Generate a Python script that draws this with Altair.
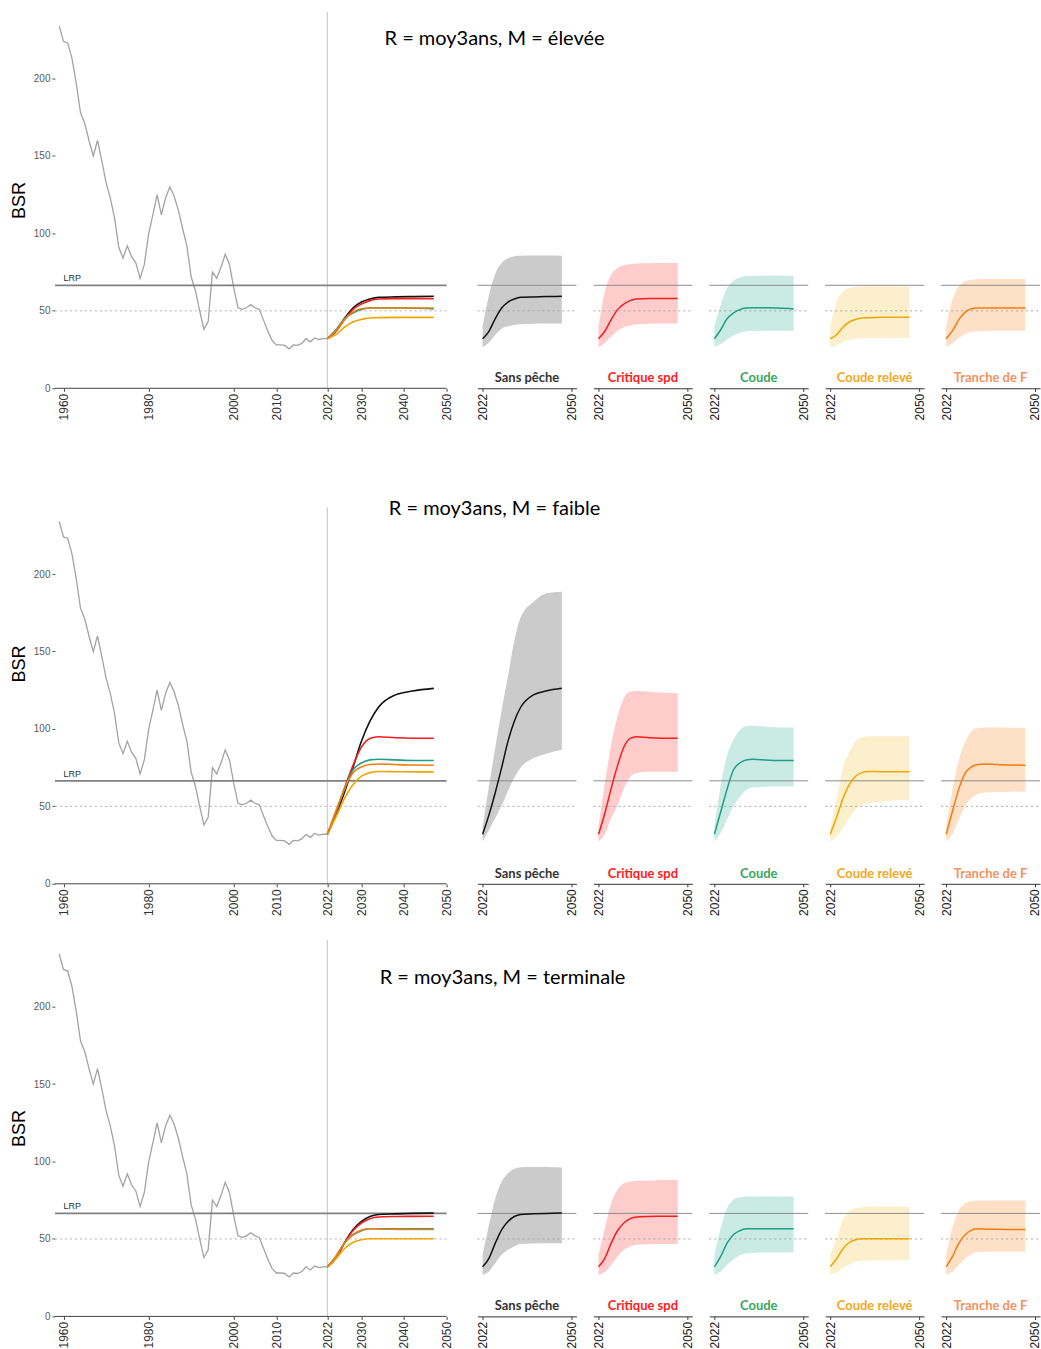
import altair as alt
import pandas as pd

# ---------------- data ----------------
HIST_YEARS = list(range(1959, 2023))
HIST_BSR = [234, 224, 223, 213, 197, 178, 171, 160, 150, 160,
            147, 133, 123, 110, 91, 84, 92, 85, 81, 71,
            80, 99.5, 112, 125, 112, 123, 130, 124, 115, 103,
            92, 72, 63, 50, 38, 43, 75, 71, 78, 86.5,
            80, 65, 52, 51, 52, 54, 52, 51, 44, 37,
            31, 28, 28, 27.7, 25.5, 28, 27.7, 29, 32, 30,
            32.5, 31.5, 32, 32]

PROJ_YEARS = [2022, 2024, 2026, 2028, 2030, 2032, 2034, 2038, 2042, 2047]
SCENARIOS = ["Sans pêche", "Critique spd", "Coude", "Coude relevé", "Tranche de F"]

LRP = 66.5
REF_50 = 50

# Row 1 : M = élevée
ELEVEE_MED = {
    "Sans pêche":   [32, 36.8, 45.0, 51.8, 55.7, 57.6, 58.7, 59.0, 59.2, 59.4],
    "Critique spd": [32, 36.8, 44.3, 50.8, 54.4, 56.6, 57.6, 57.9, 57.9, 57.9],
    "Coude":        [32, 37.8, 44.9, 48.6, 50.8, 51.8, 52.0, 52.0, 51.8, 51.2],
    "Coude relevé": [32, 34.6, 39.4, 42.8, 44.5, 45.4, 45.6, 45.8, 45.8, 45.8],
    "Tranche de F": [32, 37.2, 44.3, 49.2, 51.4, 51.8, 51.8, 51.8, 51.8, 51.8],
}
ELEVEE_LO = {
    "Sans pêche":   [26.5, 29.5, 34.6, 38.5, 40.0, 40.9, 41.3, 41.6, 41.8, 41.8],
    "Critique spd": [26.5, 29.3, 33.5, 37.2, 39.4, 40.6, 41.2, 41.6, 41.8, 41.8],
    "Coude":        [26.5, 28.6, 31.4, 34.0, 35.7, 36.8, 37.0, 37.2, 37.2, 37.2],
    "Coude relevé": [26.5, 27.8, 30.0, 31.4, 32.0, 32.3, 32.5, 32.5, 32.5, 32.5],
    "Tranche de F": [26.5, 29.3, 32.5, 35.1, 36.3, 36.8, 37.0, 37.2, 37.2, 37.2],
}
ELEVEE_HI = {
    "Sans pêche":   [40, 60.0, 74.0, 81.0, 84.0, 85.3, 85.5, 85.7, 85.7, 85.5],
    "Critique spd": [40, 62.4, 73.3, 77.6, 79.4, 80.2, 80.5, 80.7, 80.9, 80.9],
    "Coude":        [40, 54.0, 64.7, 69.4, 71.6, 72.3, 72.6, 72.9, 72.8, 72.3],
    "Coude relevé": [40, 56.1, 62.4, 64.7, 65.4, 65.6, 65.8, 65.8, 65.8, 65.8],
    "Tranche de F": [40, 57.2, 65.8, 69.0, 70.1, 70.4, 70.5, 70.5, 70.5, 70.5],
}

# Row 2 : M = faible
FAIBLE_MED = {
    "Sans pêche":   [32, 44.5, 59.0, 75.0, 92.0, 105.0, 114.0, 122.0, 124.5, 126.2],
    "Critique spd": [32, 45.6, 61.6, 76.3, 88.3, 93.9, 95.0, 94.3, 94.0, 94.0],
    "Coude":        [32, 46.5, 61.0, 73.5, 78.0, 80.0, 80.4, 80.0, 79.6, 79.6],
    "Coude relevé": [32, 43.0, 55.0, 64.0, 69.5, 71.8, 72.5, 72.4, 72.3, 72.3],
    "Tranche de F": [32, 47.0, 61.3, 71.5, 75.5, 77.0, 77.4, 77.0, 76.7, 76.6],
}
FAIBLE_LO = {
    "Sans pêche":   [27.3, 34.8, 42.5, 50.5, 60.0, 68.5, 75.0, 81.0, 84.0, 86.5],
    "Critique spd": [27.3, 32.0, 42.5, 50.5, 61.5, 69.0, 71.5, 72.4, 72.4, 72.4],
    "Coude":        [27.3, 32.9, 41.5, 49.9, 56.1, 60.4, 62.2, 62.6, 62.8, 62.8],
    "Coude relevé": [27.3, 30.5, 36.3, 42.7, 48.0, 50.8, 52.0, 53.0, 53.8, 54.2],
    "Tranche de F": [27.3, 32.5, 41.5, 50.0, 55.5, 58.0, 58.9, 59.2, 59.5, 59.6],
}
FAIBLE_HI = {
    "Sans pêche":   [37, 63.0, 88.0, 112.0, 134.0, 157.0, 172.0, 182.0, 187.5, 188.6],
    "Critique spd": [37, 65.0, 90.0, 108.0, 120.0, 124.0, 124.5, 124.0, 123.5, 123.0],
    "Coude":        [37, 63.5, 83.0, 92.9, 99.2, 101.8, 102.0, 101.5, 101.0, 100.9],
    "Coude relevé": [37, 55.0, 75.0, 85.0, 92.0, 94.5, 95.3, 95.3, 95.3, 95.3],
    "Tranche de F": [37, 61.0, 80.0, 91.5, 98.5, 100.6, 101.0, 101.0, 100.8, 100.6],
}

# Row 3 : M = terminale
TERMINALE_MED = {
    "Sans pêche":   [32, 37.5, 47.3, 55.9, 61.3, 64.5, 65.8, 66.2, 66.5, 66.7],
    "Critique spd": [32, 37.5, 47.3, 55.3, 60.3, 63.1, 64.2, 64.5, 64.6, 64.7],
    "Coude":        [32, 38.7, 47.3, 52.7, 55.3, 56.6, 56.6, 56.6, 56.6, 56.6],
    "Coude relevé": [32, 37.2, 43.7, 47.7, 49.5, 50.1, 50.1, 50.1, 50.1, 50.1],
    "Tranche de F": [32, 38.7, 47.3, 52.7, 55.7, 56.6, 56.4, 56.2, 56.1, 56.1],
}
TERMINALE_LO = {
    "Sans pêche":   [26.9, 29.0, 34.4, 39.8, 43.0, 45.2, 46.7, 47.1, 47.2, 47.3],
    "Critique spd": [26.9, 28.6, 33.3, 38.7, 43.0, 45.2, 46.2, 46.5, 46.7, 46.7],
    "Coude":        [26.9, 29.0, 33.3, 36.6, 39.4, 40.6, 41.0, 41.2, 41.3, 41.3],
    "Coude relevé": [26.9, 28.4, 31.2, 33.3, 35.1, 35.9, 36.1, 36.2, 36.3, 36.3],
    "Tranche de F": [26.9, 29.0, 33.3, 37.6, 40.2, 41.5, 41.8, 41.9, 41.9, 41.9],
}
TERMINALE_HI = {
    "Sans pêche":   [39.8, 59.0, 76.3, 87.0, 92.5, 95.3, 96.3, 96.5, 96.5, 96.1],
    "Critique spd": [39.8, 57.0, 73.1, 81.7, 86.0, 87.0, 87.5, 87.8, 88.0, 88.2],
    "Coude":        [39.8, 57.0, 69.9, 75.3, 77.0, 77.4, 77.4, 77.4, 77.4, 77.4],
    "Coude relevé": [39.8, 50.5, 62.4, 67.7, 69.9, 70.5, 70.8, 71.0, 71.0, 71.0],
    "Tranche de F": [39.8, 57.6, 68.4, 73.1, 74.4, 74.8, 74.8, 74.8, 74.8, 74.8],
}

MAIN_TICKS = [1960, 1980, 2000, 2010, 2022, 2030, 2040, 2050]
SMALL_TICKS = [2022, 2050]
Y_TICKS = [0, 50, 100, 150, 200]

# ---------------- styles ----------------
LINE_COLORS = ["#111111", "#f21d1d", "#1f9e89", "#f0a500", "#f27d0c"]
BAND_COLORS = ["#cbcbcb", "#ffcccc", "#c9ebe3", "#fcefcb", "#fde0c6"]
LABEL_COLORS = ["#333333", "#ff1a1a", "#3aa65b", "#f5a623", "#f59160"]
AXIS_FONT = "Liberation Sans"
TEXT_FONT = "Lato"

ROWS = [
    ("R = moy3ans, M = élevée", ELEVEE_MED, ELEVEE_LO, ELEVEE_HI, 243.2, 377, 27, 440),
    ("R = moy3ans, M = faible", FAIBLE_MED, FAIBLE_LO, FAIBLE_HI, 284.5, 441, 66, 440),
    ("R = moy3ans, M = terminale", TERMINALE_MED, TERMINALE_LO, TERMINALE_HI, 243.2, 377, 38, 448),
]

hist_df = pd.DataFrame({"Année": HIST_YEARS, "BSR": HIST_BSR})
MAIN_DOMAIN = [1958, 2053.29]
SMALL_DOMAIN = [2020.4, 2051.6]
TOP_VALUE = 243.2


def proj_frame(med, lo, hi):
    recs = []
    for s in SCENARIOS:
        for i, yr in enumerate(PROJ_YEARS):
            recs.append({"Année": yr, "scen": s, "med": med[s][i],
                         "lo": lo[s][i], "hi": hi[s][i]})
    return pd.DataFrame(recs)


def main_panel(title, med, lo, hi, ymax, h, ty, tx):
    xs = alt.Scale(domain=MAIN_DOMAIN, nice=False, zero=False)
    ys = alt.Scale(domain=[0, ymax], nice=False)
    xaxis = alt.Axis(values=MAIN_TICKS, labelAngle=270, format="d", domain=False,
                     grid=False, ticks=True, tickSize=3, tickColor="#404040",
                     labelFont=AXIS_FONT, labelFontSize=12, labelColor="#333333",
                     labelPadding=2, title=None, labelFlush=False, labelOverlap=False)
    yaxis = alt.Axis(values=Y_TICKS, domain=False, grid=False, tickSize=3,
                     tickColor="#555555", labelFont=AXIS_FONT, labelFontSize=10,
                     labelColor="#5a5a5a", labelPadding=2, title="BSR",
                     titleFont=AXIS_FONT, titleFontSize=18, titleFontWeight="normal",
                     titleColor="#000000", titlePadding=5)
    df = proj_frame(med, lo, hi)
    ref = pd.DataFrame({"x1": [1958], "x2": [2050], "lrp": [LRP], "r50": [REF_50],
                        "base": [0], "v": [2022], "top": [TOP_VALUE]})

    hist = alt.Chart(hist_df).mark_line(color="#a3a3a3", strokeWidth=1.3).encode(
        x=alt.X("Année:Q", scale=xs, axis=xaxis),
        y=alt.Y("BSR:Q", scale=ys, axis=yaxis))
    vline = alt.Chart(ref).mark_rule(color="#cfcfcf", strokeWidth=1.2).encode(
        x="v:Q", y="base:Q", y2="top:Q")
    lrp = alt.Chart(ref).mark_rule(color="#808080", strokeWidth=1.7).encode(
        x="x1:Q", x2="x2:Q", y="lrp:Q")
    r50 = alt.Chart(ref).mark_rule(color="#b0b0b0", strokeWidth=1, strokeDash=[2, 3]).encode(
        x="x1:Q", x2="x2:Q", y="r50:Q")
    base = alt.Chart(ref).mark_rule(color="#404040", strokeWidth=1).encode(
        x="x1:Q", x2="x2:Q", y="base:Q")
    lines = alt.Chart(df).mark_line(strokeWidth=1.6, interpolate="monotone").encode(
        x="Année:Q", y="med:Q",
        color=alt.Color("scen:N", scale=alt.Scale(domain=SCENARIOS, range=LINE_COLORS),
                        legend=None),
        order=alt.Order("Année:Q"))
    lrp_txt = alt.Chart(pd.DataFrame({"x": [1960], "y": [LRP], "t": ["LRP"]})).mark_text(
        align="left", baseline="bottom", dy=-2, font=AXIS_FONT, fontSize=9,
        color="#1e3440").encode(x="x:Q", y="y:Q", text="t:N")
    ttl = alt.Chart(pd.DataFrame({"t": [title]})).mark_text(
        align="center", baseline="middle", font=TEXT_FONT, fontSize=20,
        color="#000000").encode(x=alt.value(tx), y=alt.value(ty), text="t:N")
    return alt.layer(hist, vline, r50, lrp, base, lines, lrp_txt, ttl).properties(
        width=406, height=h)


def small_panel(idx, med, lo, hi, ymax, h):
    s = SCENARIOS[idx]
    df = proj_frame(med, lo, hi)
    df = df[df["scen"] == s]
    xs = alt.Scale(domain=SMALL_DOMAIN, nice=False, zero=False)
    ys = alt.Scale(domain=[0, ymax], nice=False)
    xaxis = alt.Axis(values=SMALL_TICKS, labelAngle=270, format="d", domain=True,
                     domainColor="#333333", grid=False, tickSize=3, tickColor="#333333",
                     labelFont=AXIS_FONT, labelFontSize=12, labelColor="#222222",
                     labelPadding=2, title=None, labelFlush=False, labelOverlap=False)
    ref = pd.DataFrame({"x1": [SMALL_DOMAIN[0]], "x2": [SMALL_DOMAIN[1]],
                        "lrp": [LRP], "r50": [REF_50]})
    band = alt.Chart(df).mark_area(color=BAND_COLORS[idx], opacity=1,
                                   interpolate="monotone").encode(
        x=alt.X("Année:Q", scale=xs, axis=xaxis),
        y=alt.Y("lo:Q", scale=ys, axis=None), y2="hi:Q")
    lrp = alt.Chart(ref).mark_rule(color="#8c8c8c", strokeWidth=1).encode(
        x="x1:Q", x2="x2:Q", y="lrp:Q")
    r50 = alt.Chart(ref).mark_rule(color="#a8a8a8", strokeWidth=1, strokeDash=[2, 3]).encode(
        x="x1:Q", x2="x2:Q", y="r50:Q")
    line = alt.Chart(df).mark_line(color=LINE_COLORS[idx], strokeWidth=1.5,
                                   interpolate="monotone").encode(
        x="Année:Q", y="med:Q")
    lab = alt.Chart(pd.DataFrame({"x": [2036], "y": [6.5], "t": [s]})).mark_text(
        align="center", baseline="middle", font=TEXT_FONT, fontSize=13,
        fontWeight="bold", color=LABEL_COLORS[idx]).encode(
        x="x:Q", y="y:Q", text="t:N")
    return alt.layer(band, lrp, r50, line, lab).properties(width=99, height=h)


rows = []
for title, med, lo, hi, ymax, h, ty, tx in ROWS:
    panels = [small_panel(i, med, lo, hi, ymax, h) for i in range(len(SCENARIOS))]
    rows.append(alt.hconcat(main_panel(title, med, lo, hi, ymax, h, ty, tx), *panels,
                            spacing=17, bounds="flush"))

chart = alt.vconcat(*rows, spacing=23).properties(
    padding={"left": 10, "top": 10, "right": 0, "bottom": 0},
    background="white",
).configure_view(stroke=None)

chart.save("out.html", embed_options={"renderer": "svg", "actions": False})
